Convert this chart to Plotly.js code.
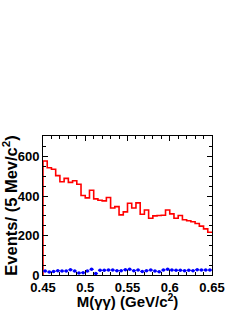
<!DOCTYPE html>
<html><head><meta charset="utf-8">
<script src="https://cdn.plot.ly/plotly-3.0.1.min.js"></script>
<style>html,body{margin:0;padding:0;background:#fff}#c{width:240px;height:310px}</style>
</head><body><div id="c"></div>
<script>
const binStart = 0.45;
const binWidth = 0.005;
const signalCounts = [578,544,536,504,473,490,470,478,460,403,391,430,386,379,376,393,340,347,305,320,364,340,366,308,330,288,300,302,303,330,310,288,302,280,275,270,261,248,234,217];
const bkgCounts = [20,15,18,22,20,20,27,20,10,12,20,29,8,24,24,25,25,22,22,27,29,22,25,18,22,25,20,17,25,29,25,24,24,22,24,22,27,25,25,25];
const xTickVals = [0.45,0.5,0.55,0.6,0.65];
const xTickText = ['0.45','0.5','0.55','0.6','0.65'];
const yTickVals = [0,200,400,600];
const yTickText = ['0','200','400','600'];

// histogram outline from bin edges
const hx = [binStart], hy = [0];
signalCounts.forEach((v,i)=>{hx.push(binStart+i*binWidth); hy.push(v);});
hx.push(binStart+signalCounts.length*binWidth); hy.push(signalCounts[signalCounts.length-1]);
const bx = bkgCounts.map((v,i)=>binStart+(i+0.5)*binWidth);

const F = {family:'Liberation Sans, Arial, sans-serif', size:13, color:'#000', weight:'bold'};
const data = [
 {x:hx, y:hy, type:'scatter', mode:'lines', line:{shape:'hv', color:'#ff0000', width:1.6}, hoverinfo:'skip'},
 {x:bx, y:bkgCounts, type:'scatter', mode:'markers', marker:{color:'#0000ff', size:3.5},
  error_x:{type:'constant', value:binWidth/2, color:'#0000ff', thickness:1, width:0}}
];
const axCommon = {showline:true, linecolor:'#000', linewidth:1, mirror:'ticks', ticks:'inside', ticklen:5, tickcolor:'#000', tickwidth:1, showgrid:false, zeroline:false, tickfont:F};
const layout = {
 width:240, height:310, showlegend:false, paper_bgcolor:'#fff', plot_bgcolor:'#fff',
 margin:{l:43, r:28, t:136, b:35},
 xaxis:Object.assign({}, axCommon, {range:[0.45,0.65], tickmode:'array', tickvals:xTickVals, ticktext:xTickText,
   minor:{dtick:0.01, ticks:'inside', ticklen:3, tickcolor:'#000', showgrid:false},
   title:{text:'M(γγ) (GeV/c<sup>2</sup>)', font:{family:F.family, size:15, color:'#000', weight:'bold'}, standoff:5}}),
 yaxis:Object.assign({}, axCommon, {range:[0,705], tickmode:'array', tickvals:yTickVals, ticktext:yTickText,
   minor:{dtick:50, ticks:'inside', ticklen:3, tickcolor:'#000', showgrid:false},
   title:{text:'Events/ (5 Mev/c<sup>2</sup>)', font:{family:F.family, size:16.5, color:'#000', weight:'bold'}, standoff:4}})
};
Plotly.newPlot('c', data, layout, {staticPlot:true, displayModeBar:false});
</script></body></html>
